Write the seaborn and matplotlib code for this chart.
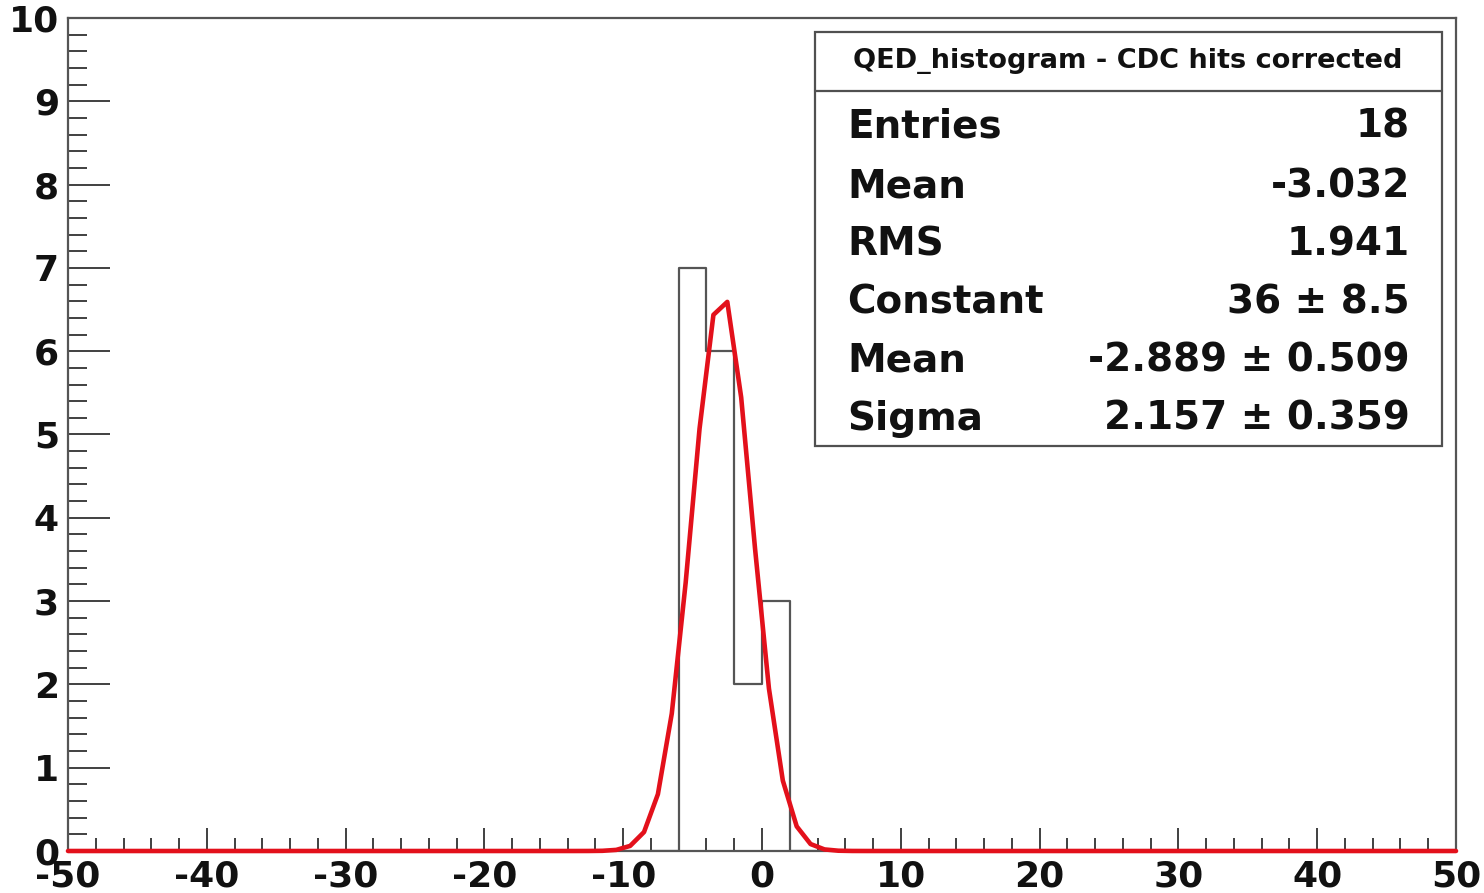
import numpy as np
import pandas as pd
import matplotlib
matplotlib.use("Agg")
import matplotlib.pyplot as plt
from matplotlib.patches import Rectangle
from matplotlib.lines import Line2D
from matplotlib.ticker import MultipleLocator
import seaborn as sns

# Histogram contents (bin centres, width 2)
bin_centers = [-5, -3, -1, 1]
bin_counts = [7, 6, 2, 3]
bin_width = 2
x_range = (-50, 50)

# Gaussian fit result
fit_mean = -2.889
fit_sigma = 2.157
fit_peak = 6.7

# Statistics box contents
stats_title = "QED_histogram - CDC hits corrected"
stats_names = ["Entries", "Mean", "RMS", "Constant", "Mean", "Sigma"]
stats_values = ["18", "-3.032", "1.941", "36 \u00b1 8.5", "-2.889 \u00b1 0.509", "2.157 \u00b1 0.359"]

W, H = 1484, 893
sns.set_theme(style="white")
plt.rcParams["font.family"] = ["DejaVu Sans"]
plt.rcParams["axes.unicode_minus"] = False

fig = plt.figure(figsize=(W / 100, H / 100), dpi=100)
fig.patch.set_facecolor("white")

def fx(px):
    return px / W

def fy(py):
    return 1 - py / H

ax = fig.add_axes([fx(68), fy(851), fx(1456) - fx(68), fy(18) - fy(851)])

# histogram outline
hist_df = pd.DataFrame({"x": bin_centers, "n": bin_counts})
sns.histplot(data=hist_df, x="x", weights="n", binwidth=bin_width, binrange=x_range,
             element="step", fill=False, color="#555555", linewidth=1.6, ax=ax)

# fitted gaussian, sampled at unit steps
xs = np.concatenate([[-50.0], np.arange(-49.5, 50, 1.0), [50.0]])
ys = fit_peak * np.exp(-0.5 * ((xs - fit_mean) / fit_sigma) ** 2)
sns.lineplot(x=xs, y=ys, color="#e3101b", linewidth=3.3, ax=ax, sort=False,
             zorder=5, clip_on=False)

ax.set_xlim(*x_range)
ax.set_ylim(0, 10)
ax.set_xlabel("")
ax.set_ylabel("")

ax.xaxis.set_major_locator(MultipleLocator(10))
ax.xaxis.set_minor_locator(MultipleLocator(2))
ax.yaxis.set_major_locator(MultipleLocator(1))
ax.yaxis.set_minor_locator(MultipleLocator(0.2))

ax.tick_params(axis="both", which="both", direction="in", color="#404040",
               width=1.4, top=False, right=False, left=True, bottom=True)
ax.tick_params(axis="y", which="major", length=30, pad=6.5)
ax.tick_params(axis="y", which="minor", length=14)
ax.tick_params(axis="x", which="major", length=16.5, pad=6)
ax.tick_params(axis="x", which="minor", length=9.5)

for lab in ax.get_xticklabels() + ax.get_yticklabels():
    lab.set_fontsize(26)
    lab.set_fontweight("bold")
    lab.set_color("#111111")

for sp in ax.spines.values():
    sp.set_color("#555555")
    sp.set_linewidth(1.6)

# statistics box
x0, x1 = 815, 1442
y0, y1 = 32, 446
fig.patches.append(Rectangle((fx(x0), fy(y1)), fx(x1) - fx(x0), fy(y0) - fy(y1),
                             transform=fig.transFigure, facecolor="white",
                             edgecolor="#505050", linewidth=1.6, zorder=10))
fig.lines.append(Line2D([fx(x0), fx(x1)], [fy(91), fy(91)], transform=fig.transFigure,
                        color="#505050", linewidth=1.6, zorder=11))
fig.text(fx((x0 + x1) / 2 - 1), fy(61), stats_title, ha="center", va="center",
         fontsize=19.5, fontweight="bold", color="#111111", zorder=12)

row_y = [126, 186, 244, 302, 361, 419]
for name, val, ry in zip(stats_names, stats_values, row_y):
    fig.text(fx(847), fy(ry), name, ha="left", va="center", fontsize=28,
             fontweight="bold", color="#111111", zorder=12)
    fig.text(fx(1410), fy(ry), val, ha="right", va="center", fontsize=28,
             fontweight="bold", color="#111111", zorder=12)

fig.savefig("out.png", dpi=100, facecolor="white")
